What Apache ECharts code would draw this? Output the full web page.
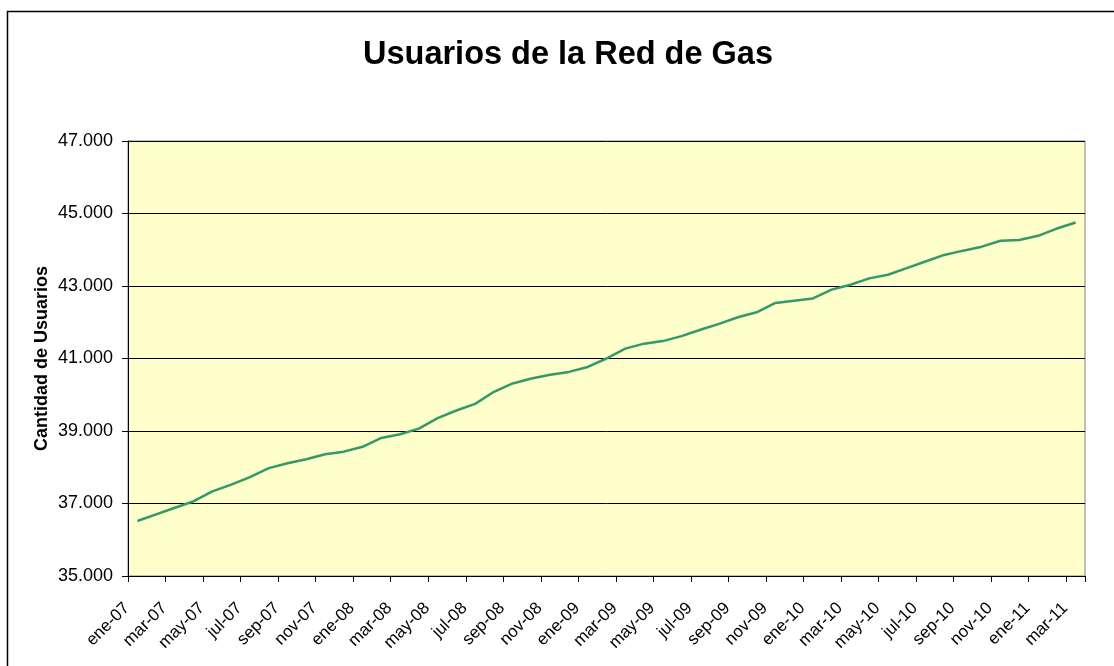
<!DOCTYPE html>
<html>
<head>
<meta charset="utf-8">
<script src="https://cdn.jsdelivr.net/npm/echarts@6/dist/echarts.min.js"></script>
<style>
html,body{margin:0;padding:0;background:#fff;}
#chart{width:1114px;height:666px;}
</style>
</head>
<body>
<div id="chart"></div>
<script>
const categories = [
  'ene-07','feb-07','mar-07','abr-07','may-07','jun-07','jul-07','ago-07','sep-07','oct-07','nov-07','dic-07',
  'ene-08','feb-08','mar-08','abr-08','may-08','jun-08','jul-08','ago-08','sep-08','oct-08','nov-08','dic-08',
  'ene-09','feb-09','mar-09','abr-09','may-09','jun-09','jul-09','ago-09','sep-09','oct-09','nov-09','dic-09',
  'ene-10','feb-10','mar-10','abr-10','may-10','jun-10','jul-10','ago-10','sep-10','oct-10','nov-10','dic-10',
  'ene-11','feb-11','mar-11'
];
const usuarios = [
  36517, 36700, 36883, 37063, 37336, 37520, 37730, 37975, 38110, 38220, 38357, 38430,
  38565, 38809, 38910, 39065, 39355, 39565, 39747, 40082, 40311, 40448, 40549, 40630,
  40767, 41000, 41273, 41410, 41480, 41617, 41792, 41956, 42138, 42275, 42532, 42595,
  42658, 42900, 43035, 43210, 43310, 43492, 43675, 43857, 43975, 44085, 44249, 44270,
  44385, 44585, 44750
];
const yMin = 35000, yMax = 47000, yStep = 2000;
const titleText = 'Usuarios de la Red de Gas';
const yAxisName = 'Cantidad de Usuarios';

function fmt(v){ return String(v).replace(/\B(?=(\d{3})+(?!\d))/g, '.'); }

const chart = echarts.init(document.getElementById('chart'));
chart.setOption({
  animation: false,
  backgroundColor: '#ffffff',
  graphic: [{
    type: 'rect', silent: true, z: -10,
    shape: {x: 7.5, y: 11.5, width: 1300, height: 1000},
    style: {fill: 'none', stroke: '#000', lineWidth: 1.5}
  }],
  title: {
    text: titleText, left: 358, top: 34,
    textStyle: {fontFamily: 'Liberation Sans, Arial', fontSize: 32.5, fontWeight: 'bold', color: '#000'}
  },
  grid: {
    left: 128, top: 141, width: 957, height: 435,
    show: true, backgroundColor: '#FFFFCC', borderColor: '#808080', borderWidth: 1
  },
  xAxis: {
    type: 'category', data: categories, boundaryGap: true,
    axisLine: {lineStyle: {color: '#000', width: 1}},
    axisTick: {show: true, interval: 1, alignWithLabel: false, length: 6, inside: false, lineStyle: {color: '#000'}},
    axisLabel: {interval: 1, rotate: 45, margin: 19, padding: [0, 15, 0, 0],
      fontFamily: 'Liberation Sans, Arial', fontSize: 17, color: '#000'},
    splitLine: {show: false}
  },
  yAxis: {
    type: 'value', min: yMin, max: yMax, interval: yStep,
    name: yAxisName, nameLocation: 'middle', nameRotate: 90, nameGap: 77, nameMoveOverlap: false,
    nameTextStyle: {fontFamily: 'Liberation Sans, Arial', fontSize: 18, fontWeight: 'bold', color: '#000'},
    axisLine: {show: true, lineStyle: {color: '#000', width: 1}},
    axisTick: {show: true, length: 6, lineStyle: {color: '#000'}},
    axisLabel: {margin: 15, formatter: fmt, fontFamily: 'Liberation Sans, Arial', fontSize: 18, color: '#000'},
    splitLine: {show: true, lineStyle: {color: '#000', width: 1}}
  },
  series: [{
    type: 'line', data: usuarios, showSymbol: false, symbol: 'none',
    lineStyle: {color: '#339966', width: 2.5}, itemStyle: {color: '#339966'}
  }]
});
</script>
</body>
</html>
